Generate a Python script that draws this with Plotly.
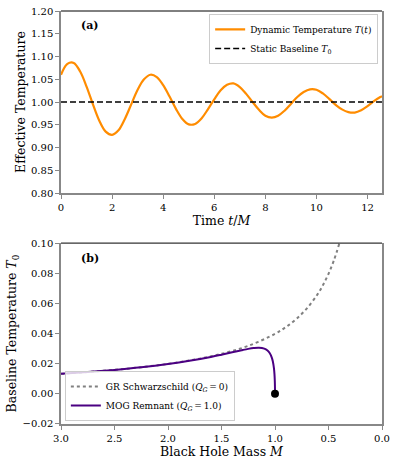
import plotly.graph_objects as go

# ---- Panel (a): dynamic temperature vs time ----
t_vals = [0, 0.25, 0.5, 0.75, 1.0, 1.25, 1.5, 1.75, 2.0, 2.25, 2.5, 2.75, 3.0, 3.25,
          3.5, 3.75, 4.0, 4.25, 4.5, 4.75, 5.0, 5.25, 5.5, 5.75, 6.0, 6.25, 6.5, 6.75,
          7.0, 7.25, 7.5, 7.75, 8.0, 8.25, 8.5, 8.75, 9.0, 9.25, 9.5, 9.75, 10.0,
          10.25, 10.5, 10.75, 11.0, 11.25, 11.5, 11.75, 12.0, 12.25, 12.5, 12.566]
T_dyn = [1.060, 1.084, 1.086, 1.067, 1.034, 0.995, 0.959, 0.935, 0.928, 0.938, 0.963,
         0.995, 1.027, 1.050, 1.060, 1.055, 1.037, 1.012, 0.985, 0.963, 0.951, 0.952,
         0.964, 0.984, 1.006, 1.026, 1.038, 1.041, 1.033, 1.018, 1.000, 0.983, 0.970,
         0.966, 0.970, 0.981, 0.996, 1.011, 1.022, 1.028, 1.027, 1.019, 1.007, 0.994,
         0.984, 0.978, 0.977, 0.982, 0.991, 1.002, 1.011, 1.013]
T_base_t = [0, 12.566]
T_base = [1.0, 1.0]

# ---- Panel (b): baseline temperature vs mass ----
M_gr = [3.0, 2.75, 2.5, 2.25, 2.0, 1.75, 1.5, 1.25, 1.0, 0.9, 0.8, 0.7, 0.6, 0.55,
        0.5, 0.45, 0.4]
T_gr = [0.01326, 0.01447, 0.01592, 0.01768, 0.01989, 0.02274, 0.02653, 0.03183,
        0.03979, 0.04421, 0.04974, 0.05684, 0.06631, 0.07234, 0.07958, 0.08842, 0.09947]
M_mog = [3.0, 2.75, 2.5, 2.25, 2.0, 1.8, 1.6, 1.5, 1.4, 1.3, 1.25, 1.2, 1.15, 1.1,
         1.07, 1.05, 1.03, 1.02, 1.01, 1.005, 1.002, 1.0005, 1.0]
T_mog = [0.01325, 0.01445, 0.01589, 0.01763, 0.01979, 0.02192, 0.02449, 0.02596,
         0.02753, 0.02912, 0.02984, 0.03040, 0.03063, 0.03004, 0.02879, 0.02714,
         0.02409, 0.02146, 0.01700, 0.01305, 0.00887, 0.00473, 0.0]
M_rem = [1.0]
T_rem = [0.0]

FONT = "'DejaVu Serif', 'Liberation Serif', serif"
GRAY = "#888888"

fig = go.Figure()
fig.add_trace(go.Scatter(x=t_vals, y=T_dyn, mode="lines", line=dict(color="#ff8c00", width=2.2, shape="spline"),
                         name="Dynamic Temperature <i>T</i>(<i>t</i>)", xaxis="x", yaxis="y", legend="legend"))
fig.add_trace(go.Scatter(x=T_base_t, y=T_base, mode="lines", line=dict(color="black", width=1.5, dash="6px,3px"),
                         name="Static Baseline <i>T</i><sub>0</sub>", xaxis="x", yaxis="y", legend="legend"))
fig.add_trace(go.Scatter(x=M_gr, y=T_gr, mode="lines", line=dict(color="gray", width=2, dash="dot", shape="spline"),
                         name="GR Schwarzschild (<i>Q<sub>G</sub></i>\u2009=\u20090)", xaxis="x2", yaxis="y2",
                         legend="legend2"))
fig.add_trace(go.Scatter(x=M_mog, y=T_mog, mode="lines", line=dict(color="#4b0082", width=2, shape="spline"),
                         name="MOG Remnant (<i>Q<sub>G</sub></i>\u2009=\u20091.0)", xaxis="x2", yaxis="y2",
                         legend="legend2"))
fig.add_trace(go.Scatter(x=M_rem, y=T_rem, mode="markers", marker=dict(color="black", size=8),
                         showlegend=False, xaxis="x2", yaxis="y2"))

axis_common = dict(showline=True, linecolor=GRAY, linewidth=1.5, ticks="outside", tickcolor=GRAY,
                   ticklen=4, tickwidth=1, showgrid=False, zeroline=False, automargin=False,
                   tickfont=dict(family=FONT, size=10, color="black"))

fig.update_layout(
    width=397, height=464,
    margin=dict(l=61, r=15, t=11, b=40),
    paper_bgcolor="white", plot_bgcolor="white",
    font=dict(family=FONT, color="black"),
    xaxis=dict(domain=[0, 1], range=[0, 12.566], tickvals=[0, 2, 4, 6, 8, 10, 12], anchor="y",
               title=dict(text="Time <i>t</i>/<i>M</i>", font=dict(family=FONT, size=12.5), standoff=3), **axis_common),
    yaxis=dict(domain=[0.559, 1], range=[0.8, 1.2], tickvals=[0.8, 0.85, 0.9, 0.95, 1.0, 1.05, 1.1, 1.15, 1.2],
               tickformat=".2f", anchor="x", mirror=True,
               title=dict(text="Effective Temperature", font=dict(family=FONT, size=12.5), standoff=3), **axis_common),
    xaxis2=dict(domain=[0, 1], range=[3.0, 0.0], tickvals=[3.0, 2.5, 2.0, 1.5, 1.0, 0.5, 0.0], tickformat=".1f",
                anchor="y2",
                title=dict(text="Black Hole Mass <i>M</i>", font=dict(family=FONT, size=12.5), standoff=3), **axis_common),
    yaxis2=dict(domain=[0, 0.438], range=[-0.02, 0.10], tickvals=[-0.02, 0.0, 0.02, 0.04, 0.06, 0.08, 0.10],
                tickformat=".2f", anchor="x2", mirror=True,
                title=dict(text="Baseline Temperature <i>T</i><sub>0</sub>", font=dict(family=FONT, size=12.5), standoff=3),
                **axis_common),
    legend=dict(x=0.988, y=0.993, xanchor="right", yanchor="top", bgcolor="rgba(255,255,255,0.8)",
                bordercolor="#cccccc", borderwidth=1, font=dict(family=FONT, size=9),
                tracegroupgap=0, itemwidth=30),
    legend2=dict(x=0.012, y=0.007, xanchor="left", yanchor="bottom", bgcolor="rgba(255,255,255,0.8)",
                 bordercolor="#cccccc", borderwidth=1, font=dict(family=FONT, size=9),
                 tracegroupgap=0, itemwidth=30),
    shapes=[
        dict(type="line", xref="x domain", yref="y domain", x0=0, x1=1, y0=1, y1=1,
             line=dict(color="black", width=1)),
        dict(type="line", xref="x2 domain", yref="y2 domain", x0=0, x1=1, y0=1, y1=1,
             line=dict(color="black", width=1)),
    ],
    annotations=[
        dict(text="<b>(a)</b>", xref="x domain", yref="y domain", x=0.056, y=0.923, xanchor="left",
             yanchor="middle", showarrow=False, font=dict(family=FONT, size=11)),
        dict(text="<b>(b)</b>", xref="x2 domain", yref="y2 domain", x=0.056, y=0.917, xanchor="left",
             yanchor="middle", showarrow=False, font=dict(family=FONT, size=11)),
    ],
)

fig.write_html("out.html", config={"displayModeBar": False},
               post_script="document.body.style.margin='0';document.body.style.padding='0';")
